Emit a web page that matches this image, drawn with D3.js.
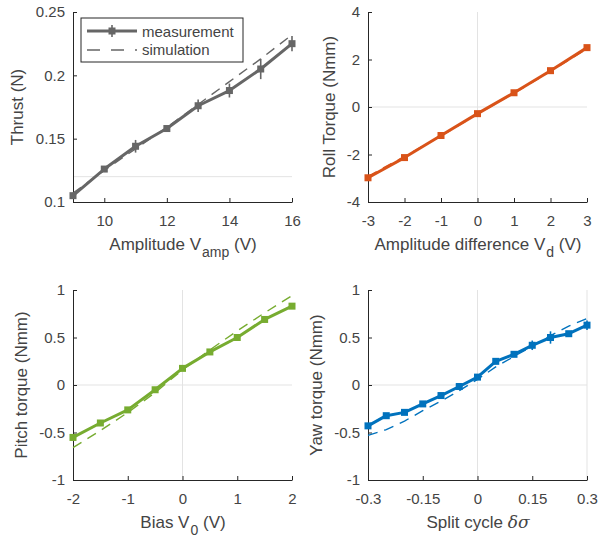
<!DOCTYPE html>
<html>
<head>
<meta charset="utf-8">
<script src="https://cdn.jsdelivr.net/npm/d3@7"></script>
<style>
  body { margin: 0; background: #fff; }
  text { font-family: "Liberation Sans", Arial, sans-serif; fill: #444; }
</style>
</head>
<body>
<div id="chart"></div>
<script>
// thrust vs amplitude
var ampX = [9, 10, 11, 12, 13, 14, 15, 16]
var thrustMeas = [0.105, 0.126, 0.144, 0.158, 0.176, 0.188, 0.205, 0.225]
var thrustErr = [0.002, 0.002, 0.005, 0.002, 0.005, 0.0055, 0.008, 0.006]
var thrustSim = [0.107, 0.125, 0.142, 0.159, 0.177, 0.195, 0.213, 0.232]

// roll torque vs amplitude difference
var diffX = [-3, -2, -1, 0, 1, 2, 3]
var rollMeas = [-2.98, -2.13, -1.2, -0.28, 0.6, 1.53, 2.5]
var rollSim = [-2.92, -2.08, -1.22, -0.3, 0.58, 1.5, 2.45]

// pitch torque vs bias
var biasX = [-2, -1.5, -1, -0.5, 0, 0.5, 1, 1.5, 2]
var pitchMeas = [-0.552, -0.4, -0.262, -0.05, 0.175, 0.348, 0.5, 0.69, 0.83]
var pitchSim = [-0.66, -0.48, -0.29, -0.08, 0.16, 0.37, 0.57, 0.76, 0.94]

// yaw torque vs split cycle
var splitX = [-0.3, -0.25, -0.2, -0.15, -0.1, -0.05, 0, 0.05, 0.1, 0.15, 0.2, 0.25, 0.3]
var yawMeas = [-0.43, -0.323, -0.288, -0.199, -0.111, -0.016, 0.083, 0.249, 0.323, 0.418, 0.5, 0.54, 0.63]
var yawErr = [0.02, 0.02, 0.02, 0.02, 0.02, 0.02, 0.02, 0.02, 0.02, 0.05, 0.065, 0.02, 0.05]
var yawSim = [-0.53, -0.47, -0.38, -0.27, -0.17, -0.06, 0.06, 0.19, 0.3, 0.41, 0.52, 0.62, 0.7]

var thrustTicksX = [10, 12, 14, 16]
var thrustTicksY = [0.1, 0.15, 0.2, 0.25]
var rollTicksX = [-3, -2, -1, 0, 1, 2, 3]
var rollTicksY = [-4, -2, 0, 2, 4]
var pitchTicksX = [-2, -1, 0, 1, 2]
var torqueTicksY = [-1, -0.5, 0, 0.5, 1]
var splitTicksX = [-0.3, -0.15, 0, 0.15, 0.3]

var svg = d3.select("#chart").append("svg")
  .attr("width", 598)
  .attr("height", 539)

// plain hyphen for negatives, like the original
function fmt(d) { return String(d) }

function panel(o) {
  var x = d3.scaleLinear().domain(o.xd).range([o.left, o.left + 219])
  var y = d3.scaleLinear().domain(o.yd).range([o.top + 190, o.top])
  var g = svg.append("g")

  // light reference lines
  ;(o.vgrid || []).forEach(function(v) {
    g.append("line").attr("x1", x(v)).attr("x2", x(v))
      .attr("y1", y(o.yd[0])).attr("y2", y(o.yd[1]))
      .attr("stroke", "#e3e3e3").attr("stroke-width", 1)
  })
  ;(o.hgrid || []).forEach(function(v) {
    g.append("line").attr("x1", x(o.xd[0])).attr("x2", x(o.xd[1]))
      .attr("y1", y(v)).attr("y2", y(v))
      .attr("stroke", "#e3e3e3").attr("stroke-width", 1)
  })

  var xAxis = g.append("g")
    .attr("transform", "translate(0," + y(o.yd[0]) + ")")
    .call(d3.axisBottom(x).tickValues(o.xt).tickSizeInner(-4).tickSizeOuter(0)
      .tickPadding(13).tickFormat(fmt))
  var yAxis = g.append("g")
    .attr("transform", "translate(" + x(o.xd[0]) + ",0)")
    .call(d3.axisLeft(y).tickValues(o.yt).tickSizeInner(-4).tickSizeOuter(0)
      .tickPadding(8).tickFormat(fmt))
  ;[xAxis, yAxis].forEach(function(a) {
    a.select(".domain").attr("stroke", "#262626")
    a.selectAll(".tick line").attr("stroke", "#262626")
    a.selectAll("text").attr("font-size", 15)
      .attr("font-family", "Liberation Sans, Arial, sans-serif").attr("fill", "#444")
  })

  var pts = o.xs.map(function(v, i) { return [v, o.meas[i]] })
  var sim = o.xs.map(function(v, i) { return [v, o.sim[i]] })
  var line = d3.line().x(function(d) { return x(d[0]) }).y(function(d) { return y(d[1]) })

  g.append("path").attr("d", line(sim)).attr("fill", "none")
    .attr("stroke", o.color).attr("stroke-width", 1.4).attr("stroke-dasharray", "10,7")
  g.append("path").attr("d", line(pts)).attr("fill", "none")
    .attr("stroke", o.color).attr("stroke-width", 3).attr("stroke-linejoin", "round")

  if (o.err) {
    g.selectAll(".err").data(pts).enter().append("line")
      .attr("x1", function(d) { return x(d[0]) })
      .attr("x2", function(d) { return x(d[0]) })
      .attr("y1", function(d, i) { return y(d[1] - o.err[i]) })
      .attr("y2", function(d, i) { return y(d[1] + o.err[i]) })
      .attr("stroke", o.color).attr("stroke-width", 1.6)
  }
  g.selectAll(".mk").data(pts).enter().append("rect")
    .attr("x", function(d) { return x(d[0]) - 3.5 })
    .attr("y", function(d) { return y(d[1]) - 3.5 })
    .attr("width", 7).attr("height", 7)
    .attr("fill", o.color)

  // y label
  g.append("text")
    .attr("transform", "translate(" + (o.left - o.ylabOff) + "," + (o.top + 95) + ") rotate(-90)")
    .attr("text-anchor", "middle").attr("font-size", 17)
    .text(o.ylab)

  // x label
  var xl = g.append("text")
    .attr("x", o.left + 110).attr("y", o.top + 238)
    .attr("text-anchor", "middle").attr("font-size", 17)
  o.xlab(xl)
  return {x: x, y: y, g: g}
}

function subLabel(t, main, sub, tail) {
  t.append("tspan").text(main)
  t.append("tspan").attr("font-size", 14).attr("dx", 1).attr("dy", 7).text(sub)
  t.append("tspan").attr("dy", -7).text(" " + tail)
}

var gray = "#666666"

var p1 = panel({
  left: 73, top: 12, xd: [9, 16], yd: [0.1, 0.25],
  xt: thrustTicksX, yt: thrustTicksY, hgrid: [0.12],
  xs: ampX, meas: thrustMeas, sim: thrustSim, err: thrustErr, color: gray,
  ylab: "Thrust (N)", ylabOff: 50,
  xlab: function(t) { subLabel(t, "Amplitude V", "amp", "(V)") }
})

panel({
  left: 368, top: 12, xd: [-3, 3], yd: [-4, 4],
  xt: rollTicksX, yt: rollTicksY, vgrid: [0], hgrid: [0],
  xs: diffX, meas: rollMeas, sim: rollSim, color: "#D95319",
  ylab: "Roll Torque (Nmm)", ylabOff: 33,
  xlab: function(t) { subLabel(t, "Amplitude difference V", "d", "(V)") }
})

panel({
  left: 73, top: 290, xd: [-2, 2], yd: [-1, 1],
  xt: pitchTicksX, yt: torqueTicksY, vgrid: [0], hgrid: [0],
  xs: biasX, meas: pitchMeas, sim: pitchSim, color: "#77AC30",
  ylab: "Pitch torque (Nmm)", ylabOff: 46,
  xlab: function(t) { subLabel(t, "Bias V", "0", "(V)") }
})

panel({
  left: 368, top: 290, xd: [-0.3, 0.3], yd: [-1, 1],
  xt: splitTicksX, yt: torqueTicksY, vgrid: [0, 0.3], hgrid: [0],
  xs: splitX, meas: yawMeas, sim: yawSim, err: yawErr, color: "#0072BD",
  ylab: "Yaw torque (Nmm)", ylabOff: 46,
  xlab: function(t) {
    t.append("tspan").text("Split cycle ")
    t.append("tspan").attr("font-family", "DejaVu Serif, serif").attr("font-style", "italic")
      .text("δσ")
  }
})

// legend in the thrust panel
var lg = p1.g.append("g")
lg.append("rect").attr("x", 81).attr("y", 18).attr("width", 162).attr("height", 44)
  .attr("fill", "#fff").attr("stroke", "#262626").attr("stroke-width", 1)
lg.append("line").attr("x1", 87).attr("x2", 137).attr("y1", 31).attr("y2", 31)
  .attr("stroke", gray).attr("stroke-width", 3)
lg.append("line").attr("x1", 112).attr("x2", 112).attr("y1", 25).attr("y2", 37)
  .attr("stroke", gray).attr("stroke-width", 1.6)
lg.append("rect").attr("x", 108.5).attr("y", 27.5).attr("width", 7).attr("height", 7).attr("fill", gray)
lg.append("line").attr("x1", 87).attr("x2", 137).attr("y1", 50).attr("y2", 50)
  .attr("stroke", gray).attr("stroke-width", 1.4).attr("stroke-dasharray", "13,11")
lg.append("text").attr("x", 142).attr("y", 36.5).attr("font-size", 15).text("measurement")
lg.append("text").attr("x", 142).attr("y", 55).attr("font-size", 15).text("simulation")
</script>
</body>
</html>
